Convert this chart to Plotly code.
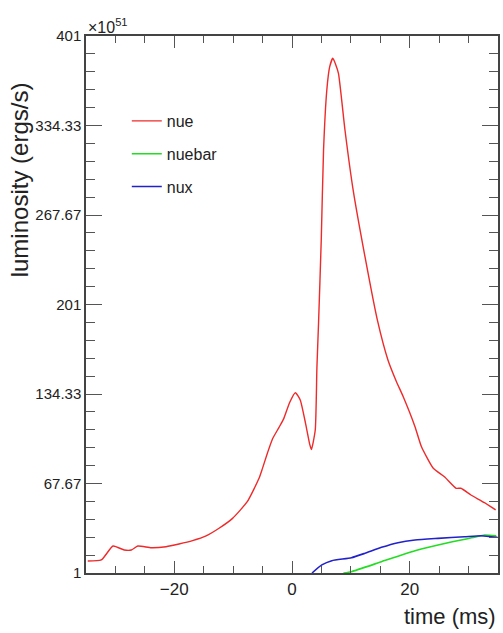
import plotly.graph_objects as go

# ---- data ----
nue_t = [-34.7, -32.4, -30.4, -28.5, -27.3, -26.2, -23.9, -21.4, -19.2, -16.9, -14.6,
         -12.4, -10.1, -7.6, -5.6, -5.07, -4.2, -3.3, -2.2, -1.4, -0.4, 0.57, 1.4, 2.3, 3.0, 3.3,
         3.95, 4.23, 4.51, 4.97, 5.36, 5.92, 6.4, 6.93, 7.4, 7.9, 9.0, 10.4, 12.4,
         14.5, 16.3, 17.75, 18.9, 20.9, 22.0, 24.0, 25.9, 27.9, 28.7, 30.4, 32.7, 34.6]
nue_L = [9.9, 10.7, 21.1, 18.1, 18.1, 21.1, 19.8, 20.6, 22.6, 25.1, 28.6,
         34.3, 41.7, 54.1, 71.5, 78.2, 90.0, 101.0, 109.5, 116.0, 128.0, 135.3, 129.9, 112.5, 97.0, 93.0,
         107.5, 153.7, 187.0, 249.0, 316.0, 361.0, 378.0, 384.4, 380.0, 373.0, 331.0, 286.0, 236.6,
         189.5, 159.7, 143.5, 132.3, 110.0, 95.0, 79.0, 72.7, 64.1, 64.1, 59.1, 53.4, 48.0]

nuebar_t = [8.74, 10.1, 15.2, 20.9, 26.5, 31.0, 32.7, 34.7]
nuebar_L = [1.0, 2.0, 9.4, 17.6, 23.6, 27.6, 29.3, 28.8]

nux_t = [3.4, 5.07, 6.76, 10.1, 12.4, 15.2, 18.0, 20.9, 24.8, 29.3, 32.1, 34.9]
nux_L = [1.0, 7.0, 10.2, 12.4, 15.7, 20.1, 23.6, 25.6, 26.8, 28.0, 28.8, 27.6]

y_tickvals = [1, 67.67, 134.33, 201, 267.67, 334.33, 401]
y_ticktext = ["1", "67.67", "134.33", "201", "267.67", "334.33", "401"]
x_tickvals = [-20, 0, 20]
x_ticktext = ["\u221220", "0", "20"]

SANS = "Liberation Sans, Arial, Helvetica, sans-serif"

fig = go.Figure()
fig.add_trace(go.Scatter(x=nue_t, y=nue_L, mode="lines", name="nue",
                         line=dict(color="#ee2a2a", width=1.4, shape="spline", smoothing=0.5),
                         legendgroup="a"))
fig.add_trace(go.Scatter(x=nuebar_t, y=nuebar_L, mode="lines", name="nuebar",
                         line=dict(color="#22dd22", width=1.6, shape="spline", smoothing=0.5),
                         legendgroup="b"))
fig.add_trace(go.Scatter(x=nux_t, y=nux_L, mode="lines", name="nux",
                         line=dict(color="#2222cc", width=1.6, shape="spline", smoothing=0.5),
                         legendgroup="c"))

W, H = 503, 633
L, R, T, B = 86, 3, 36, 60

axis_common = dict(showline=True, mirror="allticks", linecolor="#444444", linewidth=1.5,
                   ticks="inside", tickcolor="#555555", showgrid=False, zeroline=False)

fig.update_xaxes(range=[-35, 35], tickmode="array", tickvals=x_tickvals, ticktext=x_ticktext,
                 ticklen=12, tickwidth=1.2, tickfont=dict(family=SANS, size=17, color="#222222"),
                 minor=dict(ticks="inside", dtick=5, tick0=0, ticklen=7, tickcolor="#555555",
                            tickwidth=1.2, showgrid=False),
                 **axis_common)
fig.update_yaxes(range=[1, 401], tickmode="array", tickvals=y_tickvals, ticktext=y_ticktext,
                 ticklen=16, tickwidth=1.2, tickfont=dict(family=SANS, size=15, color="#222222"),
                 minor=dict(ticks="inside", dtick=400/30, tick0=1, ticklen=9, tickcolor="#555555",
                            tickwidth=1.2, showgrid=False),
                 **axis_common)

pw = W - L - R
ph = H - T - B

fig.update_layout(
    width=W, height=H,
    margin=dict(l=L, r=R, t=T, b=B),
    paper_bgcolor="white", plot_bgcolor="white",
    showlegend=True,
    legend=dict(x=(127 - L) / pw, y=(H - B - 104) / ph, xanchor="left", yanchor="top",
                bgcolor="rgba(0,0,0,0)", borderwidth=0, tracegroupgap=9,
                font=dict(family=SANS, size=16, color="#222222")),
    annotations=[
        dict(text="luminosity (ergs/s)", textangle=-90, xref="paper", yref="paper",
             x=-(L - 19) / pw, y=(H - B - 180) / ph, xanchor="center", yanchor="middle",
             showarrow=False, font=dict(family=SANS, size=24, color="#222222")),
        dict(text="time (ms)", xref="paper", yref="paper",
             x=1.0, y=-(616 - (H - B)) / ph, xanchor="right", yanchor="middle",
             showarrow=False, font=dict(family=SANS, size=22, color="#222222")),
        dict(text="\u00d710<sup>51</sup>", xref="paper", yref="paper",
             x=0.0, y=1.0, xanchor="left", yanchor="bottom", yshift=-2,
             showarrow=False, font=dict(family=SANS, size=16, color="#222222")),
    ],
)

fig.write_html("out.html")
